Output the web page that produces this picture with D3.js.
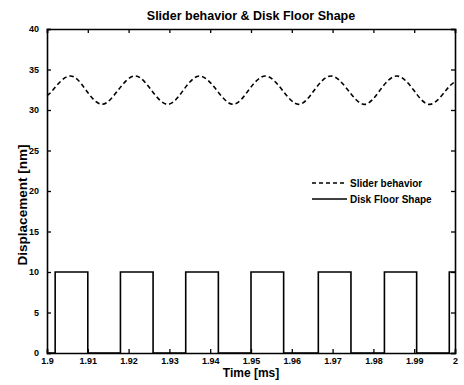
<!DOCTYPE html>
<html lang="en">
	<head>
		<meta charset="utf-8">
		<title>Slider behavior</title>
		<script src="https://d3js.org/d3.v7.min.js"></script>
		<style>
			body { margin: 0; background: #fff; }
			text { font-family: "Liberation Sans", Arial, sans-serif; font-weight: bold; fill: #000; }
		</style>
	</head>
	<body>
		<div id="chart"></div>
		<script>
			// x ticks and y ticks
			let xTicks = [1.9, 1.91, 1.92, 1.93, 1.94, 1.95, 1.96, 1.97, 1.98, 1.99, 2];
			let yTicks = [0, 5, 10, 15, 20, 25, 30, 35, 40];

			// Slider behavior (dashed), peaks / troughs / mid points
			let sliderTime = [1.9, 1.9015, 1.9055, 1.9095, 1.9135, 1.9175, 1.9216, 1.9255, 1.9296, 1.9335,
				1.9374, 1.9415, 1.9456, 1.9495, 1.9535, 1.9576, 1.9617, 1.9656, 1.9696, 1.9737,
				1.9778, 1.9817, 1.9857, 1.9898, 1.9939, 1.9979, 2.0];
			let sliderValue = [31.8, 32.5, 34.2, 32.5, 30.7, 32.5, 34.2, 32.5, 30.7, 32.5,
				34.2, 32.5, 30.7, 32.5, 34.2, 32.5, 30.7, 32.5, 34.2, 32.5,
				30.7, 32.5, 34.2, 32.5, 30.7, 32.5, 33.5];

			// Disk floor shape (solid) - edges of the pulses
			let floorTime = [1.9, 1.902, 1.902, 1.910, 1.910, 1.918, 1.918, 1.926, 1.926, 1.934, 1.934,
				1.942, 1.942, 1.950, 1.950, 1.958, 1.958, 1.9665, 1.9665, 1.9745, 1.9745,
				1.9827, 1.9827, 1.9906, 1.9906, 1.9986, 1.9986, 2.0];
			let floorValue = [0, 0, 10, 10, 0, 0, 10, 10, 0, 0, 10,
				10, 0, 0, 10, 10, 0, 0, 10, 10, 0,
				0, 10, 10, 0, 0, 10, 10];

			let legendLabels = ["Slider behavior", "Disk Floor Shape"];

			let outer_width = 464;
			let outer_height = 385;
			let margin = {top: 29, right: 9, bottom: 32, left: 47};
			let inner_width = outer_width - margin.left - margin.right;
			let inner_height = outer_height - margin.top - margin.bottom;

			let svg = d3.select("#chart")
				.append("svg")
				.attr("width", outer_width)
				.attr("height", outer_height);

			let g = svg.append("g")
				.attr("transform", "translate(" + margin.left + "," + margin.top + ")");

			let xScale = d3.scaleLinear().domain([1.9, 2]).range([0, inner_width]);
			let yScale = d3.scaleLinear().domain([0, 40]).range([inner_height, 0]);

			// axes, ticks pointing inward like matlab
			let xAxis = d3.axisBottom(xScale).tickValues(xTicks).tickSize(-4).tickPadding(5)
				.tickFormat(d => String(+d.toFixed(2)));
			let xAxisTop = d3.axisTop(xScale).tickValues(xTicks).tickSize(-4).tickFormat("");
			let yAxis = d3.axisLeft(yScale).tickValues(yTicks).tickSize(-4).tickPadding(8);
			let yAxisRight = d3.axisRight(yScale).tickValues(yTicks).tickSize(-4).tickFormat("");

			g.append("g").attr("class", "axis").attr("transform", "translate(0," + inner_height + ")").call(xAxis);
			g.append("g").attr("class", "axis").call(xAxisTop);
			g.append("g").attr("class", "axis").call(yAxis);
			g.append("g").attr("class", "axis").attr("transform", "translate(" + inner_width + ",0)").call(yAxisRight);

			g.selectAll(".axis path").attr("stroke", "#000").attr("stroke-width", 1.6);
			g.selectAll(".axis line").attr("stroke", "#000").attr("stroke-width", 1.3);
			g.selectAll(".axis text").style("font-size", "9px");

			// data lines
			let sliderData = sliderTime.map((t, i) => ({t: t, v: sliderValue[i]}));
			let floorData = floorTime.map((t, i) => ({t: t, v: floorValue[i]}));

			g.append("path")
				.datum(sliderData)
				.attr("fill", "none")
				.attr("stroke", "#000")
				.attr("stroke-width", 1.6)
				.attr("stroke-dasharray", "4.5,3")
				.attr("d", d3.line().x(d => xScale(d.t)).y(d => yScale(d.v)).curve(d3.curveNatural));

			g.append("path")
				.datum(floorData)
				.attr("fill", "none")
				.attr("stroke", "#000")
				.attr("stroke-width", 1.6)
				.attr("d", d3.line().x(d => xScale(d.t)).y(d => yScale(d.v)));

			// legend (no box)
			let legend = svg.append("g").attr("transform", "translate(312,183)");
			legendLabels.forEach(function(label, i) {
				legend.append("line")
					.attr("x1", 0).attr("x2", 35)
					.attr("y1", i * 16).attr("y2", i * 16)
					.attr("stroke", "#000")
					.attr("stroke-width", 1.5)
					.attr("stroke-dasharray", i == 0 ? "4,3" : null);
				legend.append("text")
					.attr("x", 38).attr("y", i * 16 + 3.5)
					.style("font-size", "10px")
					.text(label);
			});

			// title and axis labels
			svg.append("text")
				.attr("x", margin.left + inner_width / 2).attr("y", 20)
				.attr("text-anchor", "middle")
				.style("font-size", "12.5px")
				.text("Slider behavior & Disk Floor Shape");

			svg.append("text")
				.attr("x", margin.left + inner_width / 2).attr("y", 377)
				.attr("text-anchor", "middle")
				.style("font-size", "12px")
				.text("Time [ms]");

			svg.append("text")
				.attr("transform", "translate(27," + (margin.top + inner_height / 2 + 14) + ") rotate(-90)")
				.attr("text-anchor", "middle")
				.style("font-size", "13.5px")
				.text("Displacement [nm]");
		</script>
	</body>
</html>
